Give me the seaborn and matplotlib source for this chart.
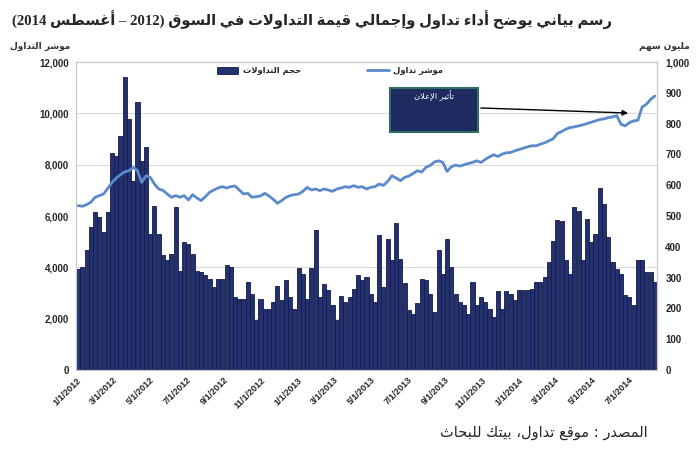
import re
import numpy as np
import pandas as pd
import matplotlib
matplotlib.use("Agg")
import matplotlib.pyplot as plt
from matplotlib.patches import Patch, Rectangle
from matplotlib.lines import Line2D
import seaborn as sns

# weekly data, Jan 2012 - Aug 2014
start_date = "2012-01-01"
# trading volume (million shares) - right axis
volume = [329, 334, 390, 464, 512, 496, 447, 512, 706, 695, 760, 951, 814, 614, 871, 679, 724, 442, 534, 442,
          372, 356, 377, 528, 323, 415, 410, 377, 321, 318, 307, 296, 270, 296,
          296, 340, 334, 237, 232, 229, 286, 248, 162, 232, 199, 199, 221, 272, 226, 291, 237, 199, 332, 313,
          232, 332, 455, 237, 278, 259, 210, 162, 239, 221, 237, 264, 310, 291,
          302, 248, 221, 437, 270, 426, 356, 478, 361, 282, 194, 181, 216, 296, 293, 248, 189, 388, 313, 426,
          334, 248, 221, 210, 183, 286, 210, 237, 221, 199, 172, 257, 199, 257,
          248, 226, 259, 259, 261, 264, 286, 286, 302, 350, 420, 487, 485, 356, 313, 528, 517, 356, 490, 415,
          442, 590, 539, 431, 350, 329, 313, 243, 237, 210, 356, 356, 318, 318, 286]
# market index - left axis
index_level = [6405, 6379, 6444, 6535, 6729, 6794, 6858, 7078, 7311, 7479, 7609, 7725, 7764, 7893, 7764, 7311,
               7570, 7505, 7246, 7052, 7000, 6858, 6729, 6794, 6729, 6794, 6625, 6832, 6703, 6599, 6755, 6923,
               7013, 7091,
               7143, 7091, 7143, 7169, 7013, 6858, 6884, 6729, 6755, 6781, 6884, 6781, 6651, 6496, 6599, 6729,
               6794, 6832, 6858, 6962, 7117, 7013, 7052, 6988, 7052, 7013, 6962, 7052, 7091, 7143, 7117, 7182,
               7117, 7143,
               7052, 7117, 7143, 7246, 7195, 7350, 7570, 7479, 7376, 7505, 7557, 7661, 7764, 7712, 7893, 7971,
               8100, 8152, 8087, 7738, 7919, 7984, 7945, 7997, 8049, 8087, 8152, 8087, 8204, 8307, 8385, 8320,
               8411, 8463,
               8476, 8540, 8592, 8644, 8696, 8735, 8735, 8799, 8851, 8929, 9006, 9213, 9291, 9382, 9446, 9472,
               9511, 9550, 9601, 9653, 9705, 9757, 9783, 9834, 9860, 9912, 9576, 9511, 9640, 9705, 9731, 10248,
               10352, 10546, 10676]
tick_dates = pd.date_range("2012-01-01", "2014-07-01", freq="2MS")

title_txt = "رسم بياني يوضح أداء تداول وإجمالي قيمة التداولات في السوق (2012 – أغسطس 2014)"
left_lbl = "موشر التداول"
right_lbl = "مليون سهم"
vol_lbl = "حجم التداولات"
idx_lbl = "موشر تداول"
note_txt = "تأثير الإعلان"
source_txt = "المصدر : موقع تداول، بيتك للبحاث"

# --- minimal arabic shaping + visual reordering (matplotlib has no bidi) ---
AR_FORMS = {
    '\u0621': (0xFE80, 1), '\u0622': (0xFE81, 2), '\u0623': (0xFE83, 2), '\u0624': (0xFE85, 2),
    '\u0625': (0xFE87, 2), '\u0626': (0xFE89, 4), '\u0627': (0xFE8D, 2), '\u0628': (0xFE8F, 4),
    '\u0629': (0xFE93, 2), '\u062A': (0xFE95, 4), '\u062B': (0xFE99, 4), '\u062C': (0xFE9D, 4),
    '\u062D': (0xFEA1, 4), '\u062E': (0xFEA5, 4), '\u062F': (0xFEA9, 2), '\u0630': (0xFEAB, 2),
    '\u0631': (0xFEAD, 2), '\u0632': (0xFEAF, 2), '\u0633': (0xFEB1, 4), '\u0634': (0xFEB5, 4),
    '\u0635': (0xFEB9, 4), '\u0636': (0xFEBD, 4), '\u0637': (0xFEC1, 4), '\u0638': (0xFEC5, 4),
    '\u0639': (0xFEC9, 4), '\u063A': (0xFECD, 4), '\u0641': (0xFED1, 4), '\u0642': (0xFED5, 4),
    '\u0643': (0xFED9, 4), '\u0644': (0xFEDD, 4), '\u0645': (0xFEE1, 4), '\u0646': (0xFEE5, 4),
    '\u0647': (0xFEE9, 4), '\u0648': (0xFEED, 2), '\u0649': (0xFEEF, 2), '\u064A': (0xFEF1, 4),
}
LAM_ALEF = {'\u0622': 0xFEF5, '\u0623': 0xFEF7, '\u0625': 0xFEF9, '\u0627': 0xFEFB}


def shape(text):
    units = []
    i = 0
    while i < len(text):
        c = text[i]
        if c == '\u0644' and i + 1 < len(text) and text[i + 1] in LAM_ALEF:
            units.append(('LA', LAM_ALEF[text[i + 1]]))
            i += 2
        elif c in AR_FORMS:
            units.append(('AR', c))
            i += 1
        else:
            units.append(('X', c))
            i += 1

    def joins_next(u):
        return u[0] == 'AR' and AR_FORMS[u[1]][1] == 4

    def joinable(u):
        return u[0] == 'LA' or (u[0] == 'AR' and AR_FORMS[u[1]][1] > 1)

    res = []
    for k, u in enumerate(units):
        if u[0] == 'X':
            res.append(u[1])
            continue
        p = k > 0 and joins_next(units[k - 1])
        if u[0] == 'LA':
            res.append(chr(u[1] + (1 if p else 0)))
            continue
        base, n = AR_FORMS[u[1]]
        nx = n == 4 and k + 1 < len(units) and joinable(units[k + 1])
        if n == 1:
            res.append(chr(base))
        elif n == 2:
            res.append(chr(base + (1 if p else 0)))
        else:
            res.append(chr(base + (3 if p and nx else 1 if p else 2 if nx else 0)))
    return ''.join(res)


def ar(text):
    s = shape(text)[::-1]
    s = re.sub(r'[0-9A-Za-z/.,]+', lambda m: m.group(0)[::-1], s)
    return s.translate(str.maketrans('()', ')('))


# --- data frame ---
df = pd.DataFrame({"week": pd.date_range(start_date, periods=len(volume), freq="7D"),
                   "volume": volume, "index_level": index_level})
df["pos"] = np.arange(len(df))

bar_color = "#243170"
bar_edge = "#141B45"
line_color = "#5B8ACB"

sns.set_style("white")
plt.rcParams["font.family"] = ["Liberation Sans", "DejaVu Sans"]

fig = plt.figure(figsize=(7, 4.5), dpi=100)
ax = fig.add_axes([76 / 700, 80 / 450, 581 / 700, 308 / 450])

sns.barplot(data=df, x="pos", y="volume", ax=ax, color=bar_color, width=0.96,
            edgecolor=bar_edge, linewidth=0.6, saturation=1, legend=False)
ax2 = ax.twinx()
sns.lineplot(data=df, x="pos", y="index_level", ax=ax2, color=line_color, linewidth=2)

# bars: right axis (million shares)
ax.set_ylim(0, 1000)
ax.set_xlim(-0.5, len(df) - 0.5)
ax.yaxis.tick_right()
ax.set_yticks(np.arange(0, 1001, 100))
ax.set_yticklabels([f"{v:,}" for v in range(0, 1001, 100)], fontsize=7, fontweight="bold")
ax.set_yticks(np.linspace(0, 1000, 7), minor=True)
ax.set_yticklabels([], minor=True)
ax.grid(False)
ax.grid(which="minor", axis="y", color="#D9D9D9", linewidth=0.8)
ax.set_axisbelow(True)
ax.tick_params(axis="y", which="both", length=0, pad=6)
ax.set_xlabel("")
ax.set_ylabel("")

tick_pos = [(d - pd.Timestamp(start_date)).days / 7 - 0.5 for d in tick_dates]
ax.set_xticks(tick_pos)
ax.set_xticklabels([f"{d.month}/{d.day}/{d.year}" for d in tick_dates], rotation=45,
                   ha="right", rotation_mode="anchor", fontsize=6.5, fontweight="bold")
ax.tick_params(axis="x", length=0, pad=4)

# line: left axis (index)
ax2.set_ylim(0, 12000)
ax2.set_xlim(-0.5, len(df) - 0.5)
ax2.yaxis.tick_left()
ax2.set_yticks(np.arange(0, 12001, 2000))
ax2.set_yticklabels([f"{v:,}" for v in range(0, 12001, 2000)], fontsize=7, fontweight="bold")
ax2.tick_params(axis="y", length=0, pad=5)
ax2.set_xlabel("")
ax2.set_ylabel("")
for a in (ax, ax2):
    for sp in a.spines.values():
        sp.set_color("#C8C8C8")
        sp.set_linewidth(0.8)

# legend
handles = [Patch(facecolor=bar_color, edgecolor=bar_edge, linewidth=0.6),
           Line2D([], [], color=line_color, linewidth=2)]
ax2.legend(handles, [ar(vol_lbl), ar(idx_lbl)], ncol=2, frameon=False,
           loc="upper left", bbox_to_anchor=(0.235, 1.0), borderaxespad=0.1,
           handlelength=2.6, handleheight=0.9, handletextpad=0.5, columnspacing=8.0,
           prop={"family": ["DejaVu Sans"], "size": 6, "weight": "bold"})

# annotation box and arrow
ax2.add_patch(Rectangle((0.540, 0.773), 0.152, 0.143, transform=ax2.transAxes,
                        facecolor="#1F2A60", edgecolor="#2F6E62", linewidth=1.5, zorder=5))
ax2.text(0.616, 0.888, ar(note_txt), transform=ax2.transAxes, ha="center", va="center",
         color="white", fontsize=6, family=["DejaVu Sans"], zorder=6)
ax2.annotate("", xy=(0.955, 0.834), xytext=(0.692, 0.851), xycoords="axes fraction",
             textcoords="axes fraction",
             arrowprops=dict(arrowstyle="-|>", color="black", linewidth=1, mutation_scale=8), zorder=6)

# titles / labels
fig.text(612 / 700, 1 - 20 / 450, ar(title_txt), ha="right", va="center", fontsize=10.65,
         fontweight="bold", family=["Liberation Serif", "DejaVu Sans"])
fig.text(10 / 700, 1 - 46 / 450, ar(left_lbl), ha="left", va="center", fontsize=6.5,
         fontweight="bold", family=["DejaVu Sans"], color="#333333")
fig.text(690 / 700, 1 - 46 / 450, ar(right_lbl), ha="right", va="center", fontsize=6.5,
         fontweight="bold", family=["DejaVu Sans"], color="#333333")
fig.text(648 / 700, 1 - 432 / 450, ar(source_txt), ha="right", va="center", fontsize=10.5,
         family=["DejaVu Sans"])

fig.savefig("out.png", dpi=100)
